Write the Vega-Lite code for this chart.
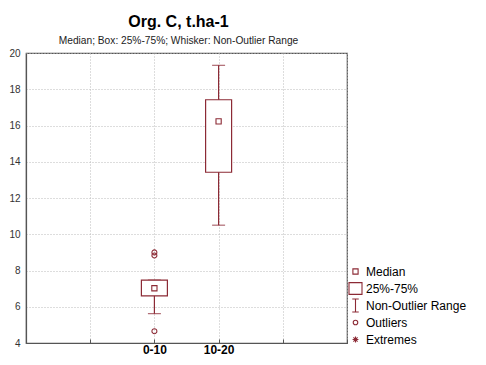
{
  "$schema": "https://vega.github.io/schema/vega-lite/v6.json",
  "width": 321,
  "height": 290,
  "autosize": {"type": "none"},
  "padding": {"left": 26, "top": 53, "right": 139, "bottom": 22},
  "background": "white",
  "config": {
    "font": "Liberation Sans",
    "view": {"stroke": "#555555", "strokeWidth": 1.2},
    "axisY": {
      "tickCount": 8,
      "labelFontSize": 10,
      "labelColor": "#333333",
      "labelPadding": 6,
      "ticks": false,
      "grid": true,
      "gridColor": "#bbbbbb",
      "gridDash": [1, 2],
      "domainColor": "#555555",
      "domainWidth": 1.2,
      "labelOverlap": false
    }
  },
  "title": {
    "text": "Org. C, t.ha-1",
    "subtitle": "Median; Box: 25%-75%; Whisker: Non-Outlier Range",
    "anchor": "middle",
    "frame": "group",
    "dx": -8,
    "fontSize": 16,
    "fontWeight": "bold",
    "color": "#000000",
    "subtitleFontSize": 10.2,
    "subtitleColor": "#222222",
    "subtitlePadding": 6,
    "offset": 2
  },
  "datasets": {
    "boxes": [
      {"cat": "0-10", "lo": 5.62, "q1": 6.6, "med": 7.02, "q3": 7.47, "hi": 7.47, "kind": "Median"},
      {"cat": "10-20", "lo": 10.5, "q1": 13.42, "med": 16.23, "q3": 17.42, "hi": 19.32, "kind": "Median"}
    ],
    "outliers": [
      {"cat": "0-10", "v": 9.0, "kind": "Outliers"},
      {"cat": "0-10", "v": 8.83, "kind": "Outliers"},
      {"cat": "0-10", "v": 4.65, "kind": "Outliers"}
    ]
  },
  "encoding": {
    "x": {
      "field": "cat",
      "type": "nominal",
      "scale": {"type": "point", "domain": ["a", "b", "0-10", "10-20", "c", "d"], "padding": 0},
      "axis": {
        "title": null,
        "labelAngle": 0,
        "labelExpr": "(datum.value == '0-10' || datum.value == '10-20') ? datum.value : ''",
        "labelFontSize": 12,
        "labelFontWeight": "bold",
        "labelColor": "#000000",
        "labelPadding": 5,
        "grid": true,
        "gridColor": "#bbbbbb",
        "gridDash": [1, 2],
        "tickSize": -4,
        "tickColor": "#555555",
        "domainColor": "#555555",
        "domainWidth": 1.2
      }
    }
  },
  "layer": [
    {
      "data": {"name": "boxes"},
      "mark": {"type": "rule", "color": "#8c2a35", "strokeWidth": 1.2},
      "encoding": {
        "y": {
          "field": "lo",
          "type": "quantitative",
          "scale": {"domain": [4, 20], "nice": false, "zero": false},
          "axis": {"title": null}
        },
        "y2": {"field": "hi"}
      }
    },
    {
      "data": {"name": "boxes"},
      "mark": {"type": "tick", "orient": "horizontal", "color": "#8c2a35", "size": 13, "thickness": 1.2},
      "encoding": {"y": {"field": "lo", "type": "quantitative", "axis": {"title": null}}}
    },
    {
      "data": {"name": "boxes"},
      "mark": {"type": "tick", "orient": "horizontal", "color": "#8c2a35", "size": 13, "thickness": 1.2},
      "encoding": {"y": {"field": "hi", "type": "quantitative", "axis": {"title": null}}}
    },
    {
      "data": {"name": "boxes"},
      "mark": {"type": "bar", "size": 26, "fill": "white", "stroke": "#8c2a35", "strokeWidth": 1.2},
      "encoding": {
        "y": {"field": "q1", "type": "quantitative", "axis": {"title": null}},
        "y2": {"field": "q3"}
      }
    },
    {
      "data": {"name": "boxes"},
      "mark": {"type": "point", "filled": false, "size": 170, "strokeWidth": 1.1, "color": "#8c2a35", "opacity": 1},
      "encoding": {
        "y": {"field": "med", "type": "quantitative", "axis": {"title": null}},
        "shape": {
          "field": "kind",
          "type": "nominal",
          "scale": {
            "domain": ["Median", "25%-75%", "Non-Outlier Range", "Outliers", "Extremes"],
            "range": [
              "M-0.4,-0.4H0.4V0.4H-0.4Z",
              "M-1,-0.9H1V0.9H-1Z",
              "M-0.5,-1H0.5M0,-1V1M-0.5,1H0.5",
              "M0.35,0A0.35,0.35 0 1,1 -0.35,0A0.35,0.35 0 1,1 0.35,0Z",
              "M-0.45,0H0.45M0,-0.45V0.45M-0.32,-0.32L0.32,0.32M-0.32,0.32L0.32,-0.32"
            ]
          },
          "legend": {
            "title": null,
            "orient": "none",
            "legendX": 322,
            "legendY": 211,
            "gridAlign": "all",
            "symbolSize": 169,
            "symbolStrokeColor": "#8c2a35",
            "symbolFillColor": "transparent",
            "symbolStrokeWidth": 1.1,
            "symbolOpacity": 1,
            "labelFontSize": 12,
            "labelColor": "#000000",
            "labelOffset": 3,
            "rowPadding": -2
          }
        }
      }
    },
    {
      "data": {"name": "outliers"},
      "mark": {"type": "point", "filled": false, "size": 200, "strokeWidth": 1.1, "color": "#8c2a35", "opacity": 1},
      "encoding": {
        "y": {"field": "v", "type": "quantitative", "axis": {"title": null}},
        "shape": {"field": "kind", "type": "nominal"}
      }
    }
  ]
}
